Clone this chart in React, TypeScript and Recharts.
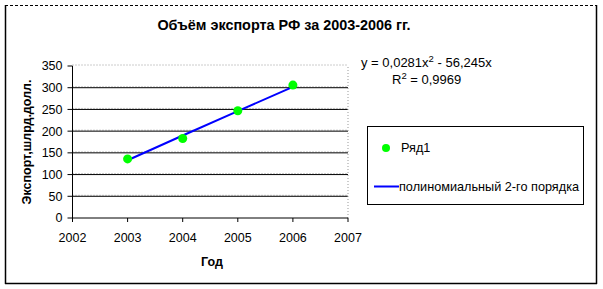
import React from 'react';
import {
  ComposedChart,
  Scatter,
  Line,
  XAxis,
  YAxis,
  CartesianGrid,
  ReferenceLine,
  Legend,
  Label,
} from 'recharts';

const years = [2003, 2004, 2005, 2006];
const exportValues = [136, 183, 247, 306];
const trendValues = [133, 190, 246, 302];
const xTicks = [2002, 2003, 2004, 2005, 2006, 2007];
const yTicks = [0, 50, 100, 150, 200, 250, 300, 350];

const data = years.map((y, i) => ({ year: y, value: exportValues[i], trend: trendValues[i] }));

const FONT = '"Liberation Sans", Arial, sans-serif';

const LegendBox = (props: any) => {
  const payload = props.payload || [];
  const scatterItem = payload.find((p: any) => p.type === 'circle') || payload[0];
  const lineItem = payload.find((p: any) => p.type === 'line') || payload[1];
  return (
    <div
      style={{
        width: 217,
        height: 79,
        border: '1px solid #000',
        boxSizing: 'border-box',
        position: 'relative',
        fontFamily: FONT,
        fontSize: 12,
        color: '#000',
        background: '#fff',
      }}
    >
      <svg width={217} height={79} style={{ position: 'absolute', left: 0, top: 0 }}>
        <circle cx={18} cy={21} r={4} fill="#00ff00" />
        <text x={33} y={25} fontFamily={FONT} fontSize={12.7} fill="#000">
          {scatterItem ? scatterItem.value : ''}
        </text>
        <line x1={6} x2={31} y1={59.5} y2={59.5} stroke="#0000ff" strokeWidth={2} />
        <text x={31} y={64} fontFamily={FONT} fontSize={12.7} fill="#000">
          {lineItem ? lineItem.value : ''}
        </text>
      </svg>
    </div>
  );
};

const gridBlack = (p: any) => {
  if (p.y1 < 70) return <g key={p.key} />;
  return <line key={p.key} x1={p.x1} x2={p.x2} y1={p.y1} y2={p.y2} stroke="#000" strokeWidth={1} />;
};

const gridDotted = (p: any) => (
  <line
    key={p.key}
    x1={p.x1}
    x2={p.x2}
    y1={p.y1 - 1}
    y2={p.y2 - 1}
    stroke="#999"
    strokeWidth={1}
    strokeDasharray="1 2"
  />
);

export default function App() {
  return (
    <div style={{ position: 'absolute', left: 0, top: 0, width: 603, height: 289, background: '#fff' }}>
      <ComposedChart
        width={603}
        height={289}
        data={data}
        margin={{ top: 66, right: 38, bottom: 41, left: 0 }}
        style={{ fontFamily: FONT }}
      >
        <line x1={5} x2={597} y1={5.5} y2={5.5} stroke="#000" strokeWidth={1} strokeDasharray="3 2" />
        <line x1={5.5} x2={5.5} y1={5} y2={284} stroke="#000" strokeWidth={1.5} />
        <line x1={596.5} x2={596.5} y1={5} y2={284} stroke="#000" strokeWidth={1.5} />
        <line x1={5} x2={597} y1={283.5} y2={283.5} stroke="#000" strokeWidth={1.5} />
        <text x={284} y={30} textAnchor="middle" fontFamily={FONT} fontSize={14.4} fontWeight="bold" fill="#000">
          Объём экспорта РФ за 2003-2006 гг.
        </text>
        <text x={361} y={67} fontFamily={FONT} fontSize={13} fill="#000">
          y = 0,0281x<tspan dy={-5} fontSize={9.5}>2</tspan>
          <tspan dy={5}> - 56,245x</tspan>
        </text>
        <text x={392} y={84} fontFamily={FONT} fontSize={13} fill="#000">
          R<tspan dy={-5} fontSize={9.5}>2</tspan>
          <tspan dy={5}> = 0,9969</tspan>
        </text>
        <CartesianGrid vertical={false} horizontal={gridDotted} horizontalValues={[50, 100, 150, 200, 250, 300, 350]} />
        <CartesianGrid vertical={false} horizontal={gridBlack} horizontalValues={[50, 100, 150, 200, 250, 300, 350]} />
        <ReferenceLine x={2007} stroke="#999" strokeDasharray="1 2" />
        <XAxis
          type="number"
          dataKey="year"
          domain={[2002, 2007]}
          ticks={xTicks}
          interval={0}
          allowDecimals={false}
          height={30}
          tickSize={4}
          tickMargin={11}
          axisLine={{ stroke: '#000' }}
          tickLine={{ stroke: '#000' }}
          tick={{ fill: '#000', fontSize: 12.5, fontFamily: FONT }}
        >
          <Label
            value="Год"
            content={(lp: any) => (
              <text x={212} y={266} textAnchor="middle" fontFamily={FONT} fontSize={12.5} fontWeight="bold" fill="#000">
                {lp.value}
              </text>
            )}
          />
        </XAxis>
        <YAxis
          type="number"
          domain={[0, 350]}
          ticks={yTicks}
          interval={0}
          width={72.5}
          tickSize={5}
          tickMargin={5}
          axisLine={{ stroke: '#000' }}
          tickLine={{ stroke: '#000' }}
          tick={{ fill: '#000', fontSize: 12.5, fontFamily: FONT }}
        >
          <Label
            value="Экспорт,шлрд.долл."
            content={(lp: any) => (
              <text
                x={0}
                y={0}
                transform="translate(31,142) rotate(-90)"
                textAnchor="middle"
                fontFamily={FONT}
                fontSize={12.5}
                fontWeight="bold"
                fill="#000"
              >
                {lp.value}
              </text>
            )}
          />
        </YAxis>
        <Line
          dataKey="trend"
          name="полиномиальный 2-го порядка"
          type="linear"
          stroke="#0000ff"
          strokeWidth={2}
          dot={false}
          activeDot={false}
          legendType="line"
          isAnimationActive={false}
        />
        <Scatter
          dataKey="value"
          name="Ряд1"
          fill="#00ff00"
          legendType="circle"
          shape={(sp: any) => <circle cx={sp.cx} cy={sp.cy} r={4.5} fill="#00ff00" />}
          isAnimationActive={false}
        />
        <Legend
          layout="vertical"
          align="right"
          verticalAlign="middle"
          content={LegendBox}
          wrapperStyle={{ position: 'absolute', left: 367, top: 126, width: 217, height: 79 }}
        />
      </ComposedChart>
    </div>
  );
}
